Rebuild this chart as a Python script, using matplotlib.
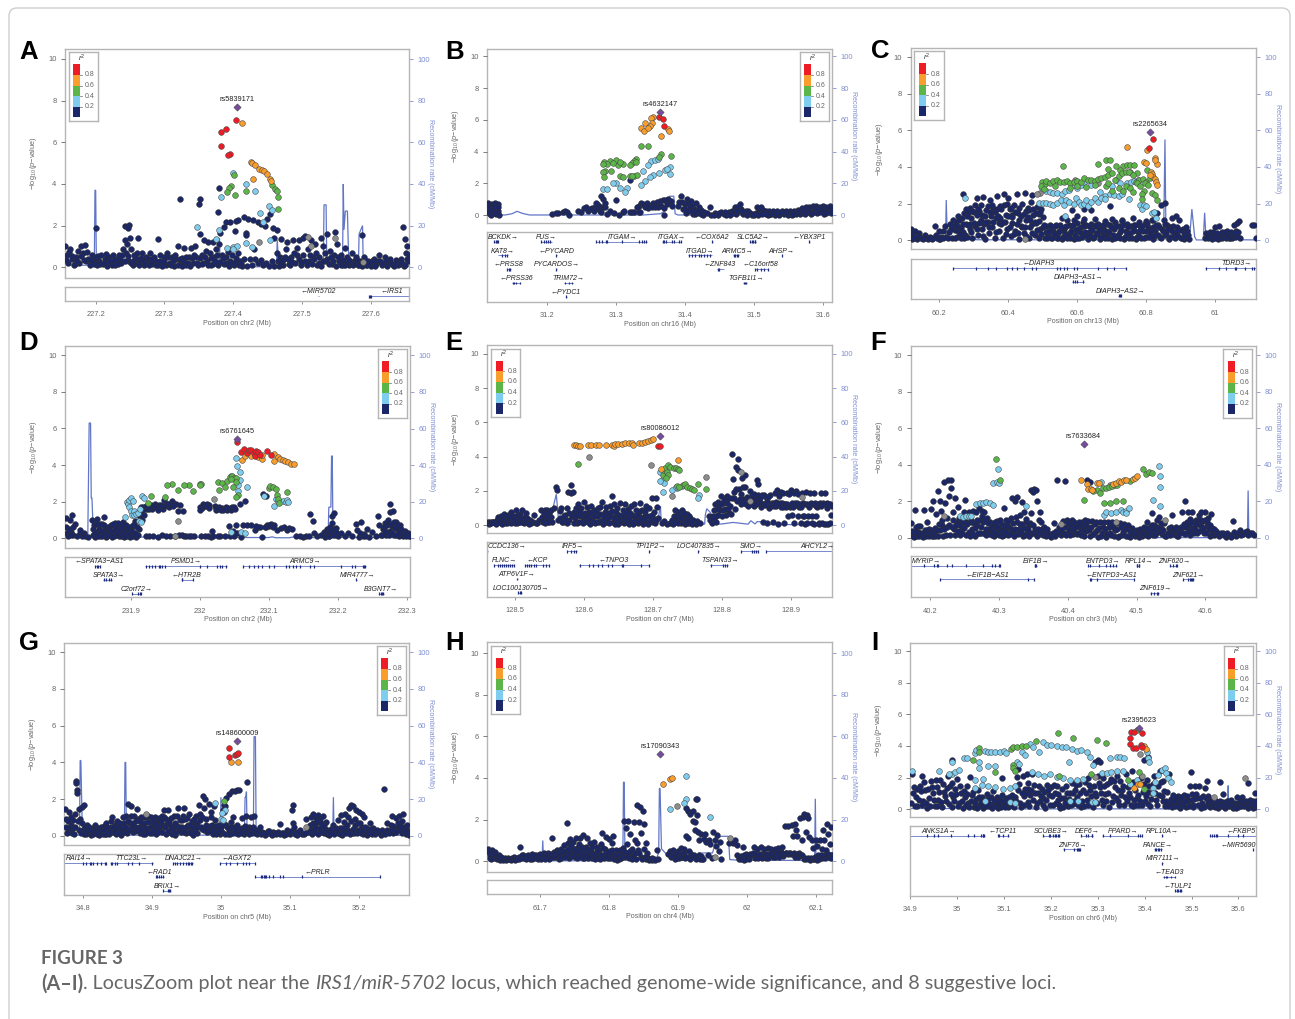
import matplotlib
matplotlib.use("Agg")
import matplotlib.pyplot as plt
from matplotlib.patches import FancyBboxPatch

W, H = 1295, 1019
plt.rcParams['font.family'] = ['Liberation Sans', 'DejaVu Sans']
plt.rcParams['mathtext.fontset'] = 'custom'
plt.rcParams['mathtext.rm'] = 'Liberation Sans'
plt.rcParams['mathtext.it'] = 'Liberation Sans:italic'

NAVY, BLUE, GREEN, ORANGE, RED, PURPLE, GREY = '#1b2768', '#7fcdee', '#5cb548', '#f99d2c', '#ee1c25', '#764a9c', '#8d8d8d'
REC, FRAME, TXT = '#6276c6', '#b5b5b5', '#666666'
RTXT = '#7f8ed2'

# ---------- A
A_navy = [(156,1.),(158,.6),(160,.2),(163,.9),(165,.4),(168,.1),(171,.5),(174,.8),(176,.2),(179,1.),(181,.7),(184,1.05),(186,.3),(189,.4),(192,.1),(195,.6),(198,.3),(200,.5),(202,.1),(205,.3),(208,.6),(210,.15),(213,.4),(216,.05),(219,.5),(222,.2),(225,.6),(228,.1),(231,.4),(234,.6),(237,.2),(240,.9),(242,1.3),(244,.7),(246,1.1),(248,.3),(250,1.4),(252,.9),(254,.1),(256,.6),(258,.2),(260,.7),(262,1.4),(264,.3),(267,.7),(270,.1),(273,.5),(276,.2),(279,.7),(282,.15),(285,.5),(288,.1),(291,1.35),(293,.6),(296,.2),(299,.5),(302,.1),(305,.5),(308,.2),(311,.5),(314,.05),(317,.4),(320,1.),(323,.15),(326,.45),(329,.95),(332,.1),(335,.5),(338,.95),(341,.2),(344,1.),(346,.5),(349,.1),(352,1.6),(354,.6),(356,.2),(358,1.3),(360,.8),(362,.3),(364,1.2),(366,.7),(368,.1),(370,1.2),(372,.5),(375,.9),(378,.1),(380,1.1),(383,.6),(386,.15),(389,.5),(392,.75),(395,.3),(398,.6),(401,.1),(404,.45),(407,.7),(410,.3),(413,.05),(416,.4),(420,.05),(424,.4),(428,.1),(432,.4),(436,.2),(440,.35),(444,.1),(448,.2),(452,.05),(456,.3),(460,.05),(464,.7),(465,.3),(468,.5),(470,1.35),(472,.1),(475,.5),(478,1.2),(481,.15),(484,.5),(487,1.3),(490,.2),(493,.6),(496,1.3),(499,.1),(502,.6),(505,1.5),(508,.9),(510,.3),(513,1.3),(516,.5),(519,1.1),(522,.1),(525,.5),(528,1.4),(531,1.),(534,.3),(537,1.6),(540,.8),(543,.15),(546,.6),(548,1.7),(551,1.1),(554,.3),(557,.6),(560,.1),(563,.95),(566,.5),(569,.1),(572,.7),(575,.3),(578,.5),(581,.1),(584,.3),(587,.05),(590,.5),(593,.1),(596,.3),(600,.05),(604,.4),(608,.15),(612,.6),(616,.1),(620,.5),(624,.05),(628,.4),(632,.1),(636,.35),(640,.1),(644,.4),(648,.05),(651,.7),(653,1.),(654,.3),(322,3.26),(351,3.26),(350,3.06),(380,3.82),(378,2.66),(200,1.89),(243,2.),(249,2.05),(247,1.87),(647,1.95),(587,1.55),(650,1.38),(453,2.56),(449,2.32),(381,1.63),(387,1.95),(390,2.16),(395,2.19),(404,2.22),(407,2.27),(415,2.4),(422,2.3),(429,2.25),(436,2.18),(441,2.08),(446,1.98),(458,1.87),(463,1.79),(402,1.74),(418,1.63),(419,1.55),(400,.95),(430,.9),(460,1.4)]
A_fill = [(157,.35),(161,.75),(166,.55),(170,.15),(173,.3),(178,.55),(183,.35),(188,.75),(193,.35),(197,.15),(204,.55),(207,.15),(212,.2),(215,.65),(220,.3),(224,.1),(227,.35),(233,.15),(236,.4),(239,.6),(243,.3),(247,.55),(251,.2),(255,.35),(259,.45),(263,.1),(266,.45),(269,.3),(272,.15),(275,.45),(278,.1),(281,.4),(284,.25),(287,.3),(290,.1),(294,.3),(297,.05),(300,.3),(303,.7),(306,.15),(310,.1),(313,.3),(316,.6),(319,.1),(322,.4),(325,.05),(328,.3),(331,.5),(334,.2),(337,.05),(340,.45),(343,.6),(347,.2),(351,.45),(355,.15),(359,.5),(363,.1),(367,.45),(371,.15),(374,.3),(377,.6),(381,.25),(385,.45),(390,.2),(394,.05),(397,.2),(403,.25),(409,.1),(412,.2),(466,.05),(469,.2),(473,.35),(476,.9),(480,.4),(483,.1),(486,.25),(489,.7),(492,.95),(495,.4),(498,.25),(501,1.4),(504,.3),(507,.1),(511,.6),(514,.15),(518,.4),(521,.7),(524,.2),(527,.05),(530,.3),(533,.7),(536,.4),(539,.15),(542,.5),(545,.3),(549,.05),(552,.5),(556,.1),(559,.35),(562,.1),(565,.2),(568,.35),(571,.2),(574,.1),(577,.2),(580,.35),(583,.1),(586,.25),(589,.3),(592,.35),(595,.1),(598,.2),(602,.3),(606,.05),(610,.3),(614,.3),(618,.2),(622,.3),(626,.2),(630,.2),(634,.05),(638,.2),(642,.15),(646,.2),(650,.1),(652,.4),(655,.6)]
A_grey = [(437,1.22),(513,1.),(548,1.39),(509,1.47),(588,.27)]
A_blue = [(399,4.51),(419,4.02),(431,3.65),(382,3.38),(452,2.96),(456,2.74),(439,2.62),(444,2.19),(348,1.94),(379,1.81),(375,1.34),(453,1.31),(418,1.18),(391,.91),(399,.98),(405,1.),(428,.98),(399,.9)]
A_green = [(401,4.42),(397,3.89),(394,3.81),(391,3.62),(402,3.46),(418,3.66),(457,3.97),(461,3.78),(464,3.65),(465,3.36),(465,2.78)]
A_orange = [(413,6.91),(426,5.07),(428,5.02),(431,4.91),(438,4.74),(442,4.66),(445,4.62),(449,4.46),(453,4.22),(455,4.13),(429,4.22)]
A_red = [(404,7.07),(390,6.64),(382,6.51),(382,5.82),(396,5.44),(393,5.39)]
A_lead = (406,7.68)
A_rec = [(155,1),(198,1),(199,37),(200,37),(201,2),(378,1),(379,2),(380,14),(381,1.5),(390,.3),(405,.8),(412,.2),(448,.3),(463,2),(464,13),(466,1),(531,1),(532,30),(535,30),(536,3),(559,3),(560,40),(561,18),(563,27),(566,27),(568,2),(582,1),(583,16),(588,20),(589,2),(656,.5)]
A_genes = [("←MIR5702",524,0,523,524,[]),("←IRS1",630,0,597,656,[597,599,601])]

# ---------- B
B_navy = [(115,.75),(117,.3),(118,.1),(119,.5),(121,.7),(122,.2),(124,.4),(125,.75),(127,.1),(128,.5),(129,.7),(130,.3),(131,.05),(116,.5),(123,.55),(126,.3),(208,.1),(213,.15),(216,.15),(223,.2),(226,.3),(229,.2),(232,.05),(246,.25),(250,.2),(254,.45),(257,.5),(260,.25),(262,.4),(265,.45),(268,.3),(270,.55),(273,.7),(275,.45),(276,.6),(277,.3),(279,.2),(281,.55),(282,1.),(284,.5),(285,.75),(272,.75),(278,1.2),(288,.1),(292,.25),(297,.15),(301,.95),(304,.05),(311,.2),(312,.25),(320,.2),(323,.2),(327,.2),(333,.2),(337,.8),(335,.2),(333,.6),(331,.55),(340,.7),(342,.55),(345,.75),(347,.45),(350,.6),(352,.5),(354,.75),(357,.55),(359,.85),(361,.5),(364,.9),(366,.6),(369,.95),(370,.45),(372,.95),(374,.7),(376,1.),(378,.85),(380,.9),(382,.6),(370,.05),(390,.6),(392,.85),(394,1.2),(396,.85),(398,.4),(400,.7),(401,.15),(403,1.),(405,.75),(407,.5),(409,.9),(411,.6),(412,.1),(414,.4),(416,.75),(418,.15),(420,.5),(422,.25),(424,.35),(426,.05),(436,.5),(438,.05),(444,.15),(448,.05),(452,.2),(456,.1),(460,.05),(464,.2),(468,.3),(470,.15),(472,.5),(474,.1),(476,.55),(478,.25),(480,.7),(482,.4),(484,.1),(486,.15),(488,.3),(491,.25),(494,.15),(497,.05),(500,.05),(503,.15),(505,.5),(507,.3),(509,.15),(511,.5),(513,.35),(515,.15),(517,.3),(520,.05),(522,.3),(525,.1),(528,.3),(531,.05),(534,.25),(537,.05),(540,.25),(543,.1),(546,.3),(549,.05),(552,.25),(555,.05),(558,.3),(561,.1),(564,.35),(567,.1),(570,.45),(572,.15),(575,.5),(577,.2),(580,.55),(582,.1),(585,.6),(587,.3),(590,.6),(592,.15),(595,.55),(597,.3),(600,.6),(602,.1),(605,.55),(607,.3),(610,.6),(612,.15),(320,2.22)]
B_fill = [(115,.2),(120,.05),(120,.35),(125,.15),(130,.55),(400,.4),(405,.3),(410,.25),(415,.1),(419,.3),(423,.1),(428,.2),(432,.15),(442,.05),(450,.15),(458,.2),(466,.05),(475,.3),(483,.25),(490,.05),(499,.1),(506,.05),(512,.1),(518,.1),(523,.1),(527,.15),(533,.1),(538,.15),(544,.2),(548,.15),(553,.1),(557,.1),(562,.2),(566,.25),(571,.3),(574,.1),(578,.4),(581,.3),(584,.15),(588,.45),(591,.35),(594,.2),(598,.45),(601,.3),(604,.15),(608,.45),(611,.4),(613,.3)]
B_blue = [(351,3.42),(357,3.48),(346,3.17),(340,2.81),(361,3.52),(378,3.02),(371,2.85),(378,2.6),(362,2.64),(354,2.54),(349,2.39),(342,2.18),(337,1.91),(301,2.05),(296,2.01),(306,1.74),(316,1.74),(314,1.45),(282,1.66),(287,1.66),(374,2.89)]
B_green = [(336,4.36),(346,4.36),(380,3.75),(366,3.86),(362,3.69),(330,3.54),(327,3.4),(323,3.27),(321,3.19),(311,3.23),(303,3.17),(300,3.48),(292,3.4),(283,3.38),(306,3.38),(296,3.27),(287,3.23),(282,3.21),(293,2.81),(285,2.79),(281,2.73),(283,2.39),(306,2.49),(310,2.43),(320,2.45),(327,2.47),(331,2.52),(323,2.5),(330,3.38)]
B_orange = [(354,6.2),(351,6.1),(343,5.83),(352,5.79),(350,5.62),(337,5.49),(341,5.3),(346,5.47),(376,5.41),(377,5.3),(365,4.99)]
B_red = [(363,6.2),(369,6.06),(370,5.6)]
B_lead = (364,6.5)
B_rec = [(114,.2),(140,.2),(150,1),(157,2.5),(165,1.2),(175,.2),(340,.2),(365,1),(372,3),(378,12),(384,12),(386,1),(390,.2),(613,.2)]
B_genes = [("BCKDK→",137,0,124,130,[124,126,128,130]),("KAT8→",137,1,129,144,[135,140,143]),("←PRSS8",144,2,143,148,[143,145,147]),("←PRSS36",156,3,150,162,[151,153,155,161]),
 ("FUS→",200,0,192,207,[192,196,199,202,205]),("←PYCARD",214,1,214,215,[214]),("PYCARDOS→",215,2,214,215,[214]),("TRIM72→",232,3,225,238,[226,233,236]),("←PYDC1",227,4,228,229,[228]),
 ("ITGAM→",309,0,272,345,[272,276,280,286,287,309,333,338,341,344]),("ITGAX→",381,0,367,395,[368,370,373,382,384,392,394]),("←COX6A2",439,0,440,441,[440]),("ITGAD→",422,1,405,439,[406,411,415,420,424,428,432,437]),
 ("←ZNF843",451,2,447,456,[448,449]),("SLC5A2→",499,0,494,503,[495,497,499,501,502]),("ARMC5→",475,1,470,478,[471,473,475,477]),("←C16orf58",510,2,501,521,[502,504,510,515,520]),("TGFB1I1→",488,3,484,490,[485,487,489]),
 ("AHSP→",540,1,540,541,[540]),("←YBX3P1",580,0,580,581,[580])]

# ---------- C
C_navy = [(118,.6),(122,.2),(125,.4),(130,.5),(135,.05),(142,.4),(150,.1),(158,.3),(166,.05),(174,.2),(182,.1),(186,.8),(190,.3),(198,.05),(206,.2),(212,.5),(216,.8),(220,.2),(228,.45),(232,.9),(236,.15),(240,1.1),(244,.55),(248,1.),(250,.2),(254,1.35),(258,.7),(262,.1),(265,1.2),(268,2.5),(270,.45),(272,1.5),(276,.9),(280,.2),(284,1.5),(288,.6),(292,1.2),(296,.1),(300,1.55),(304,.8),(308,2.3),(312,.3),(316,1.6),(320,1.1),(324,.6),(328,2.35),(332,.05),(336,1.65),(340,1.),(344,.4),(348,2.2),(352,.7),(356,1.75),(360,.1),(364,1.2),(368,2.4),(372,.5),(376,1.85),(380,.9),(384,.15),(388,2.5),(392,1.4),(396,.6),(400,2.3),(404,1.7),(408,.25),(412,.95),(416,1.9),(420,.5),(424,2.5),(428,1.5),(432,.05),(436,.8),(440,2.),(444,.4),(448,2.6),(452,1.1),(456,1.75),(460,.1),(464,.7),(468,2.45),(472,1.4),(476,.3),(480,.95),(484,1.8),(488,.15),(492,.6),(496,1.7),(200,.5),(255,.5),(275,.3),(290,.9),(310,.6),(330,.9),(350,1.3),(370,1.3),(390,1.),(410,1.4),(430,1.1),(450,1.6),(470,.9),(490,1.45),(465,2.1),(500,1.25),(500,.7),(505,.1),(510,.8),(515,.35),(520,.85),(525,.1),(530,.5),(535,.8),(540,.1),(545,.4),(550,.85),(555,.05),(560,.5),(565,.75),(570,.15),(575,.85),(580,.4),(585,.8),(590,.05),(595,.55),(600,.95),(605,.15),(610,.75),(615,1.),(620,.4),(625,.85),(630,.05),(635,.45),(640,.9),(645,.1),(650,.8),(655,.4),(660,.9),(665,.05),(670,.5),(675,.75),(680,.15),(685,.9),(690,.4),(695,.85),(700,.05),(705,.6),(710,1.),(715,.2),(720,.8),(725,.45),(730,1.1),(735,.05),(740,.5),(745,.9),(750,.15),(755,.8),(760,.5),(765,.85),(770,.05),(775,.45),(780,.85),(785,.1),(790,.5),(795,.9),(800,.2),(805,.7),(810,.4),(815,1.1),(820,.05),(825,.5),(830,1.5),(835,.85),(840,.2),(843,1.9),(845,.6),(850,1.1),(855,2.05),(855,.3),(860,.85),(865,.05),(870,.7),(875,1.2),(880,.3),(885,1.35),(890,.5),(895,1.1),(900,.15),(905,.6),(910,.05),(915,.7),(920,.3),(925,.05),(970,.1),(974,.4),(980,.15),(985,.45),(990,.05),(995,.2),(1000,.75),(1003,.35),(1008,.05),(1012,.8),(1016,.3),(1020,.1),(1025,.4),(1030,.15),(1035,.5),(1040,.1),(1045,.45),(1050,.25),(1055,.85),(1060,.5),(1064,.95),(1068,1.05),(1072,.1),(1107,.85),(1112,.85),(1117,.1),(555,1.2),(570,1.1),(590,1.1),(600,1.3),(620,1.15),(650,1.15),(680,1.05),(700,1.15),(730,1.05),(760,1.2),(780,1.),(800,1.05),(820,1.1),(585,1.65),(620,1.7),(640,1.65),(695,1.85)]
C_fill = [(120,.05),(128,.15),(138,.25),(146,.15),(154,.05),(162,.15),(170,.1),(178,.05),(194,.15),(202,.05),(210,.1),(225,.1),(235,.6),(242,.8),(246,.15),(252,.8),(256,1.1),(260,.35),(264,.65),(268,.9),(272,.15),(276,1.7),(280,1.3),(284,.85),(288,1.75),(292,.45),(296,1.6),(300,.95),(304,1.9),(308,1.4),(312,1.7),(316,.95),(320,1.9),(324,1.4),(328,.25),(332,1.35),(336,1.),(340,1.85),(344,.75),(348,1.55),(352,1.9),(356,1.),(360,1.55),(364,.45),(368,1.7),(372,.95),(376,1.2),(380,1.7),(384,1.),(388,1.9),(392,.35),(396,2.),(400,1.3),(404,.7),(408,1.75),(412,1.25),(416,.35),(420,1.55),(424,.9),(428,.4),(432,1.75),(436,1.3),(440,.7),(444,1.45),(448,.75),(452,.25),(456,1.25),(460,1.65),(464,1.1),(468,.4),(472,1.7),(476,1.),(480,1.5),(484,.55),(488,1.05),(492,1.55),(496,.35),(503,.85),(508,.45),(513,.1),(518,.5),(523,.8),(528,.15),(533,.35),(538,.85),(543,.15),(548,.5),(553,.75),(558,.2),(563,.35),(568,.8),(573,.3),(578,.15),(583,.5),(588,.85),(593,.3),(598,.15),(603,.6),(608,.45),(613,.2),(618,.8),(623,.45),(628,.25),(633,.8),(638,.3),(643,.55),(648,.2),(653,.85),(658,.35),(663,.6),(668,.2),(673,.85),(678,.35),(683,.5),(688,.15),(693,.45),(698,.75),(703,.3),(708,.15),(713,.8),(718,.3),(723,.1),(728,.55),(733,.85),(738,.2),(743,.35),(748,.75),(753,.4),(758,.15),(763,.55),(768,.85),(773,.2),(778,.25),(783,.55),(788,.8),(793,.15),(798,.5),(803,.95),(808,.2),(813,.55),(818,.75),(823,.25),(828,.85),(833,.3),(838,.75),(843,.1),(848,.5),(853,.9),(858,.4),(863,.6),(868,.2),(873,.5),(878,.8),(883,.1),(888,.75),(893,.25),(898,.55),(903,.1),(908,.4),(913,.25),(918,.5),(977,.2),(983,.35),(988,.25),(993,.45),(998,.1),(1006,.4),(1014,.15),(1018,.45),(1023,.2),(1028,.45),(1033,.25),(1038,.3),(1043,.15),(1048,.1),(1053,.4),(1058,.2),(1062,.25),(1066,.45)]
C_grey = [(447,.05),(491,2.6),(484,2.55),(592,3.3),(660,3.1)]
C_blue = [(274,2.3),(497,2.85),(510,2.7),(520,2.65),(530,2.6),(540,2.6),(555,2.55),(565,2.7),(575,2.75),(590,3.),(600,2.85),(610,3.),(620,3.2),(640,3.),(665,2.65),(680,2.4),(695,2.5),(705,2.45),(720,2.4),(730,2.55),(700,2.95),(712,3.3),(725,3.1),(745,3.1),(755,3.2),(765,3.25),(775,3.3),(750,2.25),(490,2.05),(500,2.05),(510,2.05),(522,2.),(530,1.9),(540,2.05),(552,2.2),(560,1.95),(568,2.2),(575,2.1),(590,2.),(597,2.3),(605,2.1),(610,1.95),(618,2.),(625,2.2),(632,1.85),(640,2.1),(650,2.3),(660,2.1),(668,2.3),(680,2.25),(565,1.3),(783,1.9),(788,1.7),(793,1.9),(800,1.85),(815,1.5),(822,1.55),(828,1.2)]
C_green = [(557,4.05),(661,4.16),(682,4.36),(695,4.38),(711,4.05),(690,3.89),(733,4.05),(743,4.09),(754,4.09),(763,4.09),(724,3.84),(753,3.75),(772,3.69),(801,3.84),(497,3.2),(505,3.05),(510,3.25),(520,3.1),(530,3.25),(540,3.3),(550,3.2),(560,3.2),(570,3.25),(580,3.1),(590,3.2),(600,3.25),(610,3.2),(620,3.4),(630,3.3),(640,3.3),(650,3.25),(660,3.35),(670,3.4),(680,3.45),(690,3.55),(700,3.65),(710,3.3),(720,3.5),(730,3.65),(740,3.75),(750,3.7),(760,3.55),(770,3.2),(780,3.3),(790,3.35),(800,3.2),(810,3.4),(495,2.95),(503,2.8),(535,2.95),(580,2.85),(600,2.95),(625,2.9),(650,3.),(682,2.95),(690,3.1),(700,2.7),(720,2.85),(732,2.7),(742,2.95),(752,2.85),(762,2.65),(772,3.1),(782,2.95),(792,2.7),(795,3.1),(805,3.),(788,2.5),(788,2.25),(815,2.6),(825,2.45),(830,2.2)]
C_orange = [(745,5.09),(801,4.93),(825,4.51),(830,4.15),(794,4.27),(799,4.2),(813,3.75),(816,3.62),(820,3.47),(824,3.33),(828,3.16),(832,3.02),(826,4.38),(811,3.56)]
C_red = [(818,5.55),(808,5.04)]
C_lead = (812,5.93)
C_rec = [(117,16),(118,1),(218,.3),(220,22),(223,2),(240,.5),(304,.3),(305,2),(306,.3),(850,.2),(854,55),(857,.3),(925,.3),(932,17),(940,2),(945,.2),(965,.2),(969,15),(973,.5),(1117,.2)]
C_genes = [("←DIAPH3",487,0,241,740,[241,306,340,365,395,410,425,445,470,480,540,550,560,570,590,600,660,685,705,740]),("DIAPH3−AS1→",603,1,585,619,[586,592,598,616]),("DIAPH3−AS2→",725,2,719,728,[720,723,726]),("TDRD3→",1061,0,971,1117,[972,1012,1030,1056,1060,1085,1105,1112])]

# ---------- D
D_navy = [(806,1.1),(808,.3),(810,.15),(812,1.0),(814,.35),(815,1.3),(817,.2),(819,.8),(822,.1),(826,.3),(827,.45),(830,.1),(832,.3),(834,.15),(838,.05),(844,1.),(846,.2),(847,.7),(849,.05),(851,.35),(852,1.05),(854,.5),(856,.1),(858,.8),(860,.25),(861,1.15),(863,.55),(865,.05),(867,.6),(869,.3),(871,.75),(873,.05),(875,.4),(877,.85),(879,.2),(881,.55),(883,.1),(885,.75),(887,.35),(889,.9),(891,.05),(893,.5),(895,.15),(897,.35),(899,.05),(901,.6),(903,.1),(905,.7),(907,.95),(908,.05),(910,.2),(912,.5),(913,1.15),(915,1.7),(917,1.35),(919,1.65),(921,1.6),(923,.15),(925,1.75),(927,.1),(929,1.8),(931,1.6),(933,.1),(935,1.85),(937,1.75),(939,.05),(941,1.8),(943,1.65),(945,.2),(947,1.6),(949,2.1),(951,.1),(953,1.9),(955,1.7),(957,.15),(959,1.85),(960,2.05),(962,1.95),(964,.1),(966,1.85),(968,1.5),(970,.2),(972,1.8),(974,.2),(976,1.5),(978,.15),(980,.1),(984,.1),(988,.15),(992,.1),(1000,1.7),(1002,.15),(1004,1.65),(1006,1.75),(1008,.1),(1010,1.85),(1012,.15),(1014,1.8),(1016,.05),(1018,.4),(1020,.15),(1022,1.75),(1024,1.65),(1026,.1),(1028,1.7),(1030,.15),(1032,1.65),(1034,1.55),(1036,.1),(1038,1.7),(1040,1.55),(1042,.65),(1044,.15),(1046,1.65),(1048,.4),(1050,.1),(1052,.7),(1054,.3),(1058,1.9),(1060,.05),(1063,.7),(1065,2.05),(1068,.7),(1075,.7),(1080,.45),(1085,.6),(1090,.05),(1092,2.4),(1094,.6),(1096,2.3),(1098,.75),(1100,.65),(1104,.8),(1108,.7),(1112,.45),(1118,.55),(1122,.6),(1126,.45),(1130,.55),(1134,.5),(1140,.1),(1145,.15),(1150,.05),(1154,.1),(1160,1.35),(1158,.15),(1164,.95),(1166,.3),(1170,.1),(1175,.2),(1180,.35),(1182,.05),(1185,.5),(1187,.15),(1189,.6),(1191,1.2),(1192,.85),(1194,1.4),(1196,.2),(1198,.55),(1200,.1),(1205,.3),(1210,.1),(1215,.3),(1220,.1),(1227,.8),(1228,.45),(1230,.05),(1234,.9),(1238,.25),(1242,.5),(1245,.05),(1250,.35),(1255,.1),(1258,1.2),(1260,.75),(1262,.2),(1265,.5),(1268,.85),(1270,.2),(1272,1.),(1275,1.9),(1275,1.45),(1276,.4),(1278,.65),(1280,1.5),(1282,.2),(1284,.9),(1286,.5),(1288,.15),(1290,.75),(1292,.3),(1295,.1),(1298,.4),(1300,.2),(1303,.1)]
D_fill = [(807,.6),(811,.5),(813,.2),(816,.6),(845,.5),(848,.3),(850,.8),(853,.15),(855,.8),(857,.4),(859,.15),(862,.7),(864,.3),(866,.1),(868,.45),(870,.2),(872,.4),(874,.8),(876,.15),(878,.5),(880,.3),(882,.85),(884,.4),(886,.15),(888,.6),(890,.3),(892,.1),(894,.75),(896,.25),(898,.6),(900,.15),(902,.4),(904,.75),(906,.3),(909,.6),(911,1.35),(914,1.5),(916,1.),(918,1.7),(920,1.3),(922,1.75),(924,1.6),(926,1.6),(928,1.7),(932,1.75),(936,1.7),(940,1.55),(944,1.8),(948,1.75),(952,1.85),(956,1.85),(961,1.75),(1001,1.55),(1005,1.85),(1009,1.75),(1013,1.65),(1023,1.55),(1027,1.6),(1031,1.55),(1037,1.6),(1041,1.65),(1045,1.55),(1047,1.7),(1049,1.7),(1051,1.6),(1082,.65),(1088,.6),(1096,.6),(1101,.75),(1106,.6),(1184,.3),(1186,.35),(1188,.1),(1190,.35),(1193,.2),(1195,.5),(1197,.35),(1232,.3),(1236,.1),(1240,.15),(1264,.2),(1267,.6),(1269,.4),(1271,.7),(1274,.2),(1277,.8),(1279,.3),(1281,.9),(1283,.55),(1285,.2),(1287,.7),(1289,.4),(1291,.5),(1293,.2),(1296,.25),(1299,.15),(1302,.3),(1304,.1)]
D_grey = [(969,.92),(1021,2.17),(965,.1)]
D_blue = [(892,1.15),(895,2.),(896,1.85),(898,2.1),(897,1.7),(900,2.2),(900,1.5),(902,1.3),(903,2.05),(905,1.5),(905,1.25),(908,1.35),(910,1.4),(912,.95),(916,2.3),(919,2.2),(913,1.6),(915,.9),(1045,.35),(1060,.35),(1066,.3),(1052,4.4),(1054,3.95),(1058,3.6),(1045,3.4),(1058,3.2),(1056,2.9),(1068,2.8),(1055,2.6),(1093,2.3),(1110,2.15),(1113,2.05),(1108,1.75),(1120,2.05),(1125,2.0),(1127,2.1),(1128,2.0)]
D_green = [(1000,2.95),(985,2.9),(960,2.95),(950,2.25),(930,2.3),(925,1.95),(952,2.9),(968,2.65),(977,2.9),(990,2.6),(1002,2.95),(1000,2.9),(1027,3.05),(1033,3.0),(1028,2.65),(1036,2.8),(1040,3.15),(1044,3.35),(1047,3.4),(1050,3.3),(1053,3.3),(1046,3.25),(1052,3.05),(1048,2.8),(1055,2.35),(1053,2.25),(1100,2.75),(1102,2.85),(1106,2.8),(1110,2.7),(1112,2.35),(1113,2.15),(1115,1.95),(1127,2.55)]
D_orange = [(1061,4.3),(1065,4.5),(1075,4.5),(1085,4.45),(1090,4.35),(1090,4.55),(1108,4.6),(1113,4.45),(1108,4.25),(1116,4.35),(1120,4.3),(1124,4.25),(1128,4.15),(1132,4.05),(1136,4.05)]
D_red = [(1054,5.25),(1060,4.7),(1064,4.9),(1069,4.65),(1072,4.85),(1075,4.8),(1078,4.65),(1080,4.5),(1082,4.75),(1085,4.7),(1087,4.55),(1097,4.75),(1104,4.55)]
D_lead = (1054,5.45)
D_rec = [(805,0),(806,6),(810,5.5),(812,2),(826,2),(838,1),(840,63),(842,63),(843,22),(844,22),(846,3),(860,1),(950,.5),(1020,.5),(1100,.4),(1105,.8),(1110,.3),(1130,.3),(1135,.7),(1170,.3),(1186,1),(1187,17),(1190,17),(1191,45),(1192,45),(1193,3),(1197,.5),(1305,.3)]
D_genes = [("←SPATA3−AS1",854,0,849,855,[849,851,853,855]),("SPATA3→",868,1,860,873,[861,864,868,872]),("C2orf72→",909,2,902,915,[902,911,913,915]),("PSMD1→",980,0,921,1039,[922,926,931,935,941,943,946,950,1000,1010,1025,1029,1033,1038]),("←HTR2B",981,1,974,991,[974,975,990]),("ARMC9→",1152,0,1063,1241,[1063,1072,1078,1085,1090,1100,1108,1125,1130,1135,1140,1145,1160,1165,1205,1220,1225,1236,1238,1240]),("MIR4777→",1228,1,1227,1228,[1227]),("B3GNT7→",1263,2,1260,1267,[1260,1262,1264,1266])]

# ---------- E
E_navy = [(461,.15),(464,.2),(467,.15),(470,.2),(472,.1),(474,.3),(476,.45),(478,.15),(480,.55),(482,.3),(484,.65),(486,.1),(488,.45),(490,.6),(492,.2),(494,.75),(496,.35),(498,.55),(500,.1),(502,.9),(504,.4),(506,.2),(508,.65),(510,.85),(512,.15),(514,.45),(516,.7),(518,.2),(520,.15),(522,.3),(524,.1),(526,.15),(528,.6),(530,.1),(532,.1),(535,.3),(538,.85),(539,.45),(541,.15),(543,.85),(545,.4),(547,.9),(549,.7),(550,.2),(553,.45),(556,1.),(560,2.25),(561,2.05),(563,.3),(565,.8),(567,1.),(570,.15),(573,.6),(575,1.),(577,1.95),(578,.3),(581,2.35),(582,1.9),(584,1.95),(586,.75),(588,1.0),(590,.1),(592,1.25),(594,.55),(596,1.),(598,.25),(600,1.35),(602,.7),(604,1.05),(606,.15),(608,.75),(610,1.1),(612,.4),(614,.85),(616,.1),(618,.55),(620,1.),(622,.15),(624,1.05),(626,1.35),(628,.3),(630,.75),(632,1.05),(634,.2),(636,.7),(638,1.1),(640,1.7),(642,.2),(644,1.25),(646,.5),(648,1.),(650,.05),(652,1.3),(654,.55),(656,.85),(658,.1),(660,1.2),(662,.5),(664,.95),(666,.05),(668,1.1),(670,.6),(672,1.2),(674,.3),(676,.9),(678,.1),(680,.55),(682,1.3),(684,.85),(686,.1),(688,.6),(690,1.1),(692,.2),(694,1.),(696,.5),(698,1.6),(700,.15),(702,.75),(704,1.55),(706,1.05),(708,.4),(713,.1),(716,.25),(720,.05),(725,.1),(730,.5),(732,.9),(734,.15),(736,.75),(738,.3),(740,.1),(742,.9),(744,.5),(746,.05),(748,.3),(750,.65),(752,.1),(754,.4),(756,.05),(758,.3),(762,.05),(764,.25),(768,.1),(782,.5),(785,.15),(786,.1),(788,.85),(790,1.2),(791,.55),(793,.95),(795,1.35),(796,1.15),(798,1.7),(800,.55),(802,1.3),(804,1.6),(806,.6),(808,1.7),(810,.7),(812,1.1),(814,1.55),(815,4.15),(816,2.7),(818,1.95),(820,3.4),(821,2.1),(823,3.85),(824,3.2),(825,2.1),(827,1.8),(829,2.75),(831,1.5),(833,2.9),(835,1.2),(837,1.65),(839,1.3),(841,2.),(843,1.75),(845,1.3),(847,1.1),(849,1.6),(851,2.65),(852,2.4),(854,1.3),(856,1.05),(858,1.75),(860,.2),(862,1.25),(864,1.65),(866,.1),(868,1.),(870,1.75),(872,1.3),(874,.15),(876,1.1),(878,1.35),(880,2.05),(882,.05),(884,1.3),(886,1.95),(888,1.05),(890,.1),(892,1.25),(894,1.85),(896,.55),(898,1.05),(900,2.05),(902,.6),(904,.1),(906,1.3),(908,2.),(910,.55),(912,1.05),(914,.1),(916,1.9),(918,1.3),(920,.05),(922,1.95),(924,.1),(926,1.05),(928,1.85),(930,.1),(932,1.25),(934,1.9),(936,.55),(938,1.05),(940,.1),(942,1.3),(944,1.9),(946,1.3),(948,.05),(950,1.25),(952,1.0),(954,.05),(956,1.2),(958,.6),(959,1.1)]
E_fill = [(462,.05),(465,.1),(468,.2),(473,.05),(477,.2),(481,.05),(483,.4),(485,.3),(487,.2),(489,.1),(491,.4),(493,.55),(495,.1),(497,.15),(499,.35),(501,.25),(503,.1),(505,.6),(507,.4),(509,.15),(511,.35),(513,.1),(515,.25),(517,.4),(519,.1),(521,.05),(540,.25),(542,.7),(544,.1),(546,.55),(548,.2),(552,.85),(554,.15),(566,.4),(568,.15),(571,.5),(574,.3),(576,.1),(579,.7),(583,.5),(585,.1),(587,.4),(589,.6),(591,.85),(593,.2),(595,.75),(597,.5),(599,.1),(601,.4),(603,.25),(605,.55),(607,.3),(609,.05),(611,.7),(613,.15),(615,.5),(617,.8),(619,.2),(621,.5),(623,.65),(625,.25),(627,.05),(629,.5),(631,.2),(633,.7),(635,.4),(637,.1),(639,.55),(641,.8),(643,.4),(645,.05),(647,.75),(649,.3),(651,.6),(653,.15),(655,.3),(657,.6),(659,.3),(661,.75),(663,.2),(665,.4),(667,.7),(669,.2),(671,.05),(673,.5),(675,.3),(677,.6),(679,.25),(681,.8),(683,.4),(685,.05),(687,.35),(689,.8),(691,.55),(693,.05),(695,.2),(697,.3),(699,.6),(701,.35),(703,.1),(705,.3),(727,.3),(729,.05),(731,.2),(733,.55),(735,.4),(737,.1),(739,.6),(741,.4),(743,.2),(745,.7),(747,.25),(749,.1),(751,.35),(753,.55),(755,.2),(783,.3),(787,.55),(789,.4),(792,.2),(794,.6),(797,.9),(799,1.2),(801,.9),(803,1.45),(805,.95),(807,1.3),(809,.95),(811,1.6),(813,.65),(817,1.6),(819,.95),(822,1.4),(826,1.5),(828,1.2),(830,2.25),(832,1.3),(834,2.25),(836,1.6),(838,1.1),(840,1.45),(842,1.25),(844,1.55),(846,1.8),(848,1.35),(850,1.25),(853,1.75),(855,1.6),(857,1.3),(859,1.2),(861,1.75),(863,1.15),(865,1.4),(867,1.65),(869,1.15),(871,1.1),(873,1.25),(875,1.3),(877,1.85),(879,1.1),(881,1.2),(883,1.7),(885,1.05),(887,1.3),(889,1.9),(891,1.2),(893,1.05),(895,1.25),(897,1.8),(899,1.1),(901,1.3),(903,1.05),(905,1.85),(907,1.15),(909,1.3),(911,1.8),(913,1.25),(915,1.05),(917,.5),(919,.55),(921,1.25),(923,1.2),(925,.55),(927,1.25),(929,1.3),(931,.55),(933,.05),(935,1.3),(937,1.1),(939,1.25),(941,.05),(943,1.1),(945,.1),(947,1.2),(949,1.85),(951,.05),(953,1.3),(955,1.2),(957,.1)]
E_grey = [(608,4.),(697,3.5),(777,2.8),(727,1.7),(828,3.1),(916,1.65),(840,1.4)]
E_blue = [(711,3.1),(713,2.65),(716,2.45),(711,2.55),(715,1.95),(735,2.15),(728,2.05),(733,2.25),(742,2.3),(767,1.75),(766,1.6)]
E_green = [(591,3.55),(715,2.95),(716,3.2),(718,3.35),(720,3.1),(722,3.5),(725,3.4),(730,3.35),(734,3.35),(736,3.25),(738,3.2),(722,2.9),(719,2.75),(743,2.35),(747,2.4),(750,2.25),(754,2.15),(757,2.1),(760,2.05),(765,2.4),(777,2.1),(735,2.3),(738,2.2)]
E_orange = [(585,4.65),(589,4.65),(591,4.62),(595,4.6),(606,4.65),(611,4.65),(617,4.65),(622,4.7),(632,4.7),(641,4.7),(643,4.6),(645,4.72),(650,4.75),(655,4.75),(660,4.78),(665,4.78),(670,4.8),(671,4.65),(680,4.78),(684,4.8),(688,4.85),(693,4.9),(697,4.95),(700,5.05),(712,3.3),(737,3.8)]
E_red = [(708,4.6),(711,4.6)]
E_lead = (711,5.2)
E_rec = [(460,.2),(530,.2),(545,.3),(552,4),(557,13),(560,18),(563,4),(570,.3),(700,.2),(706,.5),(711,11),(712,1),(775,.5),(776,6),(778,9.5),(784,7),(790,.5),(800,.6),(816,1.5),(838,.5),(842,2.5),(848,.6),(851,2),(858,1.8),(865,.3),(960,.1)]
E_genes = [("CCDC136→",489,0,460,461,[460]),("FLNC→",485,1,469,499,[469,475,478,481,484,487,490,493,496,498]),("←KCP",532,1,515,550,[515,518,521,524,527,530,541,545,549]),("ATP6V1F→",503,2,503,504,[503]),("LOC100130705→",509,3,504,511,[505,507,509]),
 ("IRF5→",584,0,576,590,[576,581,586,588]),("←TNPO3",643,1,593,695,[594,608,613,620,626,635,640,655,657,683,695]),("TPI1P2→",697,0,695,696,[695]),("LOC407835→",767,0,766,767,[766]),("TSPAN33→",797,1,783,809,[784,801,804,807]),("SMO→",842,0,828,853,[828,844,846,850,852]),("AHCYL2→",938,0,864,960,[864])]

# ---------- F
F_navy = [(173,.8),(175,.3),(176,.1),(178,1.55),(179,.6),(181,.1),(183,.35),(186,.65),(188,.1),(191,1.55),(193,.45),(195,.85),(197,.15),(199,.5),(201,1.6),(203,.1),(205,2.),(207,.55),(209,1.3),(211,2.55),(213,.75),(214,2.),(216,1.5),(218,1.),(220,3.05),(222,1.9),(224,.6),(226,3.15),(228,2.3),(230,3.15),(231,2.75),(233,1.4),(235,.5),(237,2.2),(239,.9),(241,1.7),(243,.15),(245,1.),(247,.55),(249,1.4),(251,2.1),(253,.85),(255,.2),(257,1.45),(259,.9),(261,.5),(263,1.5),(265,.1),(267,1.4),(269,.7),(271,1.65),(273,.3),(275,1.5),(277,.85),(279,1.45),(281,.15),(283,1.1),(285,.5),(287,.9),(289,.3),(291,.75),(293,.1),(295,.65),(297,.95),(299,.35),(301,1.),(303,.6),(305,.1),(307,1.65),(309,.5),(311,1.),(313,.15),(315,.6),(317,1.1),(319,2.2),(321,.35),(323,2.05),(325,1.15),(327,2.25),(329,.5),(331,1.25),(333,1.95),(335,.1),(337,1.4),(339,.9),(341,.3),(343,.6),(346,2.65),(347,1.35),(349,2.5),(351,2.7),(352,.5),(354,2.65),(356,2.05),(358,1.),(360,1.45),(362,.5),(364,.15),(366,.6),(368,.1),(372,.3),(376,.05),(380,.8),(383,.4),(385,3.2),(388,.6),(390,.15),(393,.95),(396,3.1),(397,.6),(399,1.),(401,.2),(403,.55),(406,1.),(408,.2),(410,.6),(414,.75),(418,.65),(421,.85),(423,.1),(425,1.),(428,3.15),(432,3.05),(427,.4),(430,.95),(433,.1),(436,.95),(439,.35),(441,.9),(444,.05),(447,.9),(450,.3),(452,.9),(455,.05),(458,.85),(461,.3),(464,.85),(467,.1),(470,.8),(473,.05),(476,.8),(479,.15),(482,.75),(485,.1),(488,.7),(491,.05),(494,.55),(497,.1),(500,.45),(503,.05),(505,.5),(508,.1),(511,.6),(513,.15),(515,.9),(517,.3),(520,.6),(522,1.35),(524,.15),(526,.7),(528,.3),(530,1.),(533,1.15),(535,.55),(537,.2),(540,.8),(543,.1),(547,.55),(549,.25),(552,1.25),(555,.2),(557,.6),(559,.1),(563,.4),(566,1.4),(568,.6),(570,2.05),(571,.2),(574,1.4),(576,.7),(578,.15),(580,1.4),(582,.55),(584,.9),(586,1.),(588,.3),(590,1.25),(592,.7),(594,1.45),(596,.95),(598,.25),(600,1.4),(602,.65),(604,1.1),(606,.1),(608,1.3),(610,.55),(612,.15),(615,.4),(620,.1),(625,.25),(630,.05),(635,.15),(640,.95),(641,.2),(645,.1),(650,.45),(655,.2),(660,.4),(665,.3),(670,.15)]
F_fill = [(174,.4),(177,.05),(180,.35),(182,.65),(184,.1),(187,.3),(190,.05),(192,.3),(194,.1),(196,.45),(198,.1),(200,.3),(202,.45),(204,.1),(206,.25),(208,.1),(210,.45),(212,.1),(215,.45),(217,.7),(219,.1),(221,.5),(223,.15),(225,1.1),(227,.7),(229,.15),(232,.6),(234,1.),(236,.15),(238,.7),(240,.4),(242,1.1),(244,.7),(246,.3),(248,.9),(250,.55),(252,.15),(254,.75),(256,.35),(258,.1),(260,1.),(262,.2),(264,.8),(266,.55),(268,1.),(270,.25),(272,1.),(274,.6),(276,1.2),(278,.3),(280,1.),(282,.5),(284,.8),(286,.2),(288,.55),(290,.15),(292,.4),(294,.85),(296,.25),(298,.6),(300,.15),(302,.85),(304,.35),(306,.7),(308,.15),(310,.35),(312,.7),(314,.95),(316,.2),(318,.5),(320,.8),(322,.1),(324,.5),(326,.85),(328,.2),(330,.75),(332,.35),(334,.75),(336,.55),(338,.15),(340,1.05),(342,.45),(344,.1),(345,.8),(348,.25),(350,.7),(353,.3),(355,.1),(357,.5),(359,.2),(361,.85),(363,.3),(365,.45),(367,.15),(370,.5),(374,.1),(378,.25),(381,.1),(386,.25),(389,.4),(392,.55),(395,.3),(398,.15),(400,.8),(402,.45),(404,.15),(405,.7),(407,.5),(409,.85),(411,.25),(412,.6),(413,.2),(415,.3),(416,.85),(419,.15),(420,.5),(422,.55),(424,.4),(426,.7),(429,.55),(431,.45),(434,.6),(437,.2),(440,.75),(443,.45),(446,.55),(449,.1),(451,.6),(454,.5),(457,.2),(460,.6),(463,.15),(466,.6),(469,.45),(472,.5),(475,.1),(478,.6),(481,.35),(484,.5),(487,.1),(490,.4),(493,.25),(496,.4),(498,.25),(502,.3),(506,.3),(510,.25),(512,.4),(514,.55),(516,.1),(518,.45),(521,.2),(523,.7),(525,.45),(527,.15),(529,.6),(531,.55),(534,.35),(536,.8),(538,.45),(541,.1),(545,.3),(548,.15),(550,.6),(553,.4),(556,.45),(558,.3),(560,.1),(562,.3),(564,.6),(567,.3),(569,.75),(572,.6),(573,.9),(575,.4),(577,1.05),(579,.45),(581,.85),(583,.25),(585,.5),(587,.75),(589,1.),(591,.4),(593,1.),(595,.6),(597,.45),(599,1.),(601,.3),(603,.85),(605,.5),(607,.7),(609,.25),(611,.35),(613,.5),(617,.25),(622,.3),(627,.15),(632,.25),(637,.05),(642,.35),(647,.3),(652,.15),(657,.35),(662,.15),(667,.25)]
F_grey = [(220,1.2),(390,.75),(461,2.9),(542,1.),(470,.9)]
F_blue = [(292,3.),(297,3.05),(299,3.8),(300,3.),(267,1.85),(272,1.9),(277,1.9),(282,1.95),(287,1.9),(291,1.8),(244,1.2),(248,1.15),(252,1.2),(256,1.2),(260,1.2),(339,1.75),(448,3.05),(452,1.25),(456,1.4),(463,1.35),(470,1.45),(477,1.55),(480,1.4),(484,1.5),(489,1.65),(484,1.35),(524,2.1),(532,3.95),(534,3.4),(534,2.8),(534,1.75)]
F_green = [(296,4.3),(301,3.2),(424,2.1),(443,2.6),(447,2.45),(451,2.75),(455,2.75),(460,2.8),(464,2.85),(468,2.9),(472,2.9),(490,3.1),(509,3.75),(514,3.5),(518,3.6),(522,3.55),(452,1.9),(462,1.9),(470,2.05),(481,2.0),(437,2.55)]
F_orange = [(420,3.15),(428,2.95),(430,2.7),(434,2.7),(436,2.65),(443,3.0),(445,3.),(466,2.95),(470,3.0),(474,3.1),(478,3.05),(482,3.15),(485,3.15),(495,3.25),(497,3.3),(500,3.4)]
F_red = []
F_lead = (423,5.15)
F_rec = [(172,.2),(250,1),(350,.8),(420,.8),(425,.8),(426,6),(427,.4),(460,.4),(461,5),(462,.4),(510,.4),(515,.2),(650,.2),(661,1),(662,26),(663,2),(665,.5),(673,.2)]
F_genes = [("MYRIP→",195,0,172,302,[192,206,210,212,224,232,252,277,290,295,300,301]),("←EIF1B−AS1",283,1,215,351,[215,343,351]),("EIF1B→",354,0,352,355,[352,353,354]),("ENTPD3→",451,0,429,471,[429,432,445,456,461,466,470]),("←ENTPD3−AS1",464,1,433,496,[433,434,442,496]),("RPL14→",503,0,500,504,[500,501,503,504]),("ZNF620→",555,0,549,559,[549,553,557,558]),("ZNF621→",575,1,567,583,[567,574,577,579,581,582]),("ZNF619→",527,2,520,532,[521,525,529,531])]

# ---------- G
G_navy = [(774,1.45),(776,.9),(778,.3),(780,1.3),(782,.6),(784,.15),(786,.85),(788,1.2),(790,3.),(790,2.85),(791,2.5),(792,2.35),(794,1.45),(796,.9),(798,1.55),(800,.3),(802,1.65),(804,.1),(806,.6),(808,.15),(810,.35),(812,.05),(814,.4),(816,.2),(818,.6),(820,.1),(822,.4),(824,.05),(826,.5),(828,.15),(830,.55),(832,.1),(834,.7),(836,.3),(838,.1),(840,.45),(842,1.),(843,.2),(846,.6),(848,.1),(850,.8),(852,.3),(855,.05),(858,1.),(860,.5),(862,1.1),(864,.15),(866,1.75),(868,.7),(870,1.6),(872,.2),(874,1.05),(876,.5),(878,1.45),(880,.9),(882,.15),(884,1.),(886,.6),(888,1.),(890,.1),(892,1.),(894,1.1),(896,.4),(898,1.),(900,.15),(902,.7),(904,1.),(906,.1),(908,.75),(910,.95),(912,.3),(914,1.1),(916,.6),(918,1.4),(920,.1),(922,.65),(924,1.4),(926,.2),(928,.95),(930,.55),(932,1.1),(934,.05),(936,.55),(938,1.5),(940,.85),(942,.2),(944,.5),(946,1.5),(948,.9),(950,.15),(952,.6),(954,1.2),(956,.4),(958,.8),(960,.05),(962,.6),(964,1.05),(966,.15),(968,1.7),(970,1.2),(972,.35),(974,2.15),(975,1.5),(977,2.0),(979,.9),(980,.2),(982,1.75),(984,.55),(986,1.3),(988,.1),(990,1.6),(992,.85),(994,.3),(997,.6),(999,.1),(1003,1.4),(1005,1.65),(1007,.6),(1008,2.05),(1010,.1),(1012,2.3),(1014,.75),(1016,2.45),(1018,1.),(1020,2.45),(1022,.15),(1024,2.5),(1026,2.5),(1030,.95),(1034,.1),(1038,2.95),(1036,1.05),(1040,.5),(1044,1.),(1046,.2),(1048,1.05),(1052,.1),(1056,.5),(1060,.2),(1064,.05),(1068,.25),(1072,.1),(1076,.2),(1080,.1),(1085,.65),(1088,.15),(1092,.05),(1096,.3),(1100,.1),(1103,1.4),(1105,1.65),(1107,.2),(1110,.05),(1115,.3),(1120,.1),(1124,.9),(1127,.4),(1130,1.),(1132,.1),(1134,1.2),(1136,.6),(1138,.95),(1140,1.15),(1142,.2),(1144,.9),(1146,.5),(1148,1.05),(1150,.15),(1152,.75),(1154,.3),(1156,.05),(1162,.6),(1165,.2),(1170,.85),(1172,.4),(1174,1.15),(1176,.05),(1178,.75),(1180,1.2),(1182,.3),(1184,1.),(1186,1.5),(1188,1.65),(1190,.15),(1192,1.6),(1194,.9),(1196,1.4),(1198,.3),(1200,1.3),(1202,.7),(1204,1.2),(1206,.1),(1208,1.),(1210,.4),(1212,.05),(1216,.7),(1218,.15),(1220,.4),(1224,.1),(1228,.25),(1232,.05),(1237,2.53),(1240,.7),(1242,.2),(1246,.6),(1248,1.05),(1250,.15),(1253,.95),(1255,.4),(1258,1.1),(1260,.7),(1262,.15),(1264,1.2),(1266,.5),(1268,.1),(1270,.3),(1272,.05),(1006,1.6),(1005,1.3)]
G_fill = [(775,.5),(777,.15),(779,.8),(781,.4),(783,1.),(785,.4),(787,.1),(789,.5),(793,.8),(795,.3),(797,.15),(799,.7),(801,.1),(803,.5),(805,.3),(807,.2),(809,.5),(811,.15),(813,.3),(815,.1),(817,.4),(819,.3),(821,.15),(823,.3),(825,.2),(827,.3),(829,.1),(831,.3),(833,.1),(835,.5),(837,.15),(839,.2),(841,.8),(844,.5),(847,.25),(849,.45),(851,.15),(853,.55),(854,.7),(856,.2),(857,.4),(859,.7),(861,.2),(863,.5),(865,.8),(867,.3),(869,1.1),(871,.45),(873,.7),(875,.25),(877,.8),(879,.3),(881,.5),(883,.8),(885,.3),(887,.1),(889,.7),(891,.4),(893,.2),(895,.75),(897,.15),(899,.5),(901,.85),(903,.3),(905,.6),(907,.4),(909,.2),(911,.6),(913,.8),(915,.2),(917,1.),(919,.5),(921,.9),(923,.25),(925,.75),(927,.45),(929,.1),(931,.3),(933,.7),(935,.2),(937,1.1),(939,.3),(941,.5),(943,.85),(945,1.1),(947,.2),(949,.45),(951,.95),(953,.2),(955,.6),(957,.15),(959,.4),(961,.9),(963,.25),(965,.7),(967,.5),(969,.85),(971,.5),(973,1.),(976,.3),(978,.6),(981,.5),(983,.25),(985,1.),(987,.6),(989,.3),(991,.55),(993,.1),(995,.55),(996,.2),(998,.3),(1000,.45),(1002,.2),(1004,.65),(1006,.1),(1009,.5),(1011,.3),(1013,.1),(1015,.45),(1017,.15),(1019,.5),(1021,.3),(1023,.6),(1025,.1),(1027,.35),(1029,.15),(1031,.4),(1033,.25),(1035,.55),(1037,.2),(1039,.3),(1041,.1),(1043,.35),(1045,.15),(1047,.5),(1049,.15),(1051,.3),(1054,.2),(1058,.1),(1062,.15),(1066,.1),(1070,.25),(1074,.05),(1078,.15),(1082,.2),(1086,.1),(1090,.15),(1094,.1),(1098,.2),(1102,.25),(1104,.7),(1106,.5),(1108,.1),(1112,.2),(1117,.1),(1122,.15),(1126,.2),(1129,.6),(1131,.3),(1133,.7),(1135,.2),(1137,.4),(1139,.75),(1141,.1),(1143,.4),(1145,.7),(1147,.2),(1149,.6),(1151,.35),(1153,.1),(1155,.2),(1158,.15),(1160,.35),(1164,.1),(1167,.4),(1169,.15),(1171,.25),(1173,.1),(1175,.4),(1177,.2),(1179,.4),(1181,.15),(1183,.6),(1185,.25),(1187,.1),(1189,.8),(1191,.35),(1193,.15),(1195,.6),(1197,.15),(1199,.7),(1201,.3),(1203,.15),(1205,.5),(1207,.2),(1209,.45),(1211,.15),(1213,.35),(1215,.15),(1217,.35),(1219,.1),(1222,.25),(1226,.3),(1230,.15),(1234,.3),(1238,.1),(1241,.3),(1244,.15),(1247,.3),(1249,.55),(1251,.3),(1254,.2),(1256,.7),(1259,.3),(1261,.5),(1263,.8),(1265,.25),(1267,.3),(1269,.6),(1271,.15)]
G_grey = [(892,1.2),(1124,.5)]
G_blue = [(991,1.8),(1006,1.4),(1001,1.25),(1000,.9),(1003,.85)]
G_green = [(1004,1.9)]
G_orange = [(1015,4.),(1025,4.)]
G_red = [(1012,4.8),(1011,4.3),(1021,4.4),(1024,4.45),(1025,4.5)]
G_lead = (1024,5.15)
G_rec = [(773,.3),(795,.3),(796,41),(797,41),(799,5),(800,.3),(860,.3),(861,40),(862,40),(863,.3),(999,.3),(1000,21),(1001,.5),(1034,.3),(1035,21),(1036,21),(1037,24),(1038,.5),(1047,.5),(1048,54),(1050,54),(1051,.5),(1055,.5),(1058,6),(1060,.3),(1162,.3),(1163,21),(1164,.3),(1273,.2)]
G_genes = [("RAI14→",794,0,773,834,[800,804,810,812,815,820,826,832,833]),("TTC23L→",871,0,839,901,[840,842,846,850,865,871,881,900]),("←RAD1",910,1,906,917,[906,908,910,913,916]),("BRIX1→",922,2,916,927,[916,923,925,926]),("DNAJC21→",946,0,930,960,[930,934,937,940,945,950,952,954,956,958]),("←AGXT2",1023,0,998,1050,[999,1008,1013,1024,1032,1036,1041,1049]),("←PRLR",1139,1,1049,1231,[1050,1058,1060,1062,1064,1066,1069,1075,1085,1090,1118,1231])]

# ---------- H
H_navy = [(625,.6),(627,.3),(629,.1),(631,.55),(633,.2),(635,.45),(637,.1),(640,.3),(642,.05),(645,.15),(648,.1),(651,.05),(654,.15),(657,.1),(660,.15),(663,.2),(666,.1),(669,.2),(671,.7),(673,.15),(676,.3),(679,.1),(682,.3),(685,.1),(688,.35),(691,.15),(694,.3),(697,.1),(700,.35),(703,.15),(706,.4),(709,.2),(712,.4),(715,.15),(718,1.1),(720,.45),(722,.2),(725,.55),(727,.1),(730,.6),(732,.25),(735,.8),(737,.35),(739,1.85),(740,.9),(742,.15),(744,1.05),(746,.5),(748,.95),(750,.2),(752,1.1),(754,.65),(756,.2),(758,1.1),(760,.5),(762,1.25),(764,.15),(766,.7),(768,1.1),(770,.3),(772,.9),(774,.5),(776,.15),(778,.95),(780,.35),(782,.7),(784,.15),(786,.55),(788,.85),(790,1.35),(792,.3),(794,.6),(796,1.15),(798,.15),(800,1.05),(802,.5),(804,.9),(806,1.2),(808,.25),(810,.55),(812,.05),(814,.35),(816,.55),(818,.15),(820,.65),(822,1.95),(824,1.6),(826,.85),(828,1.95),(830,1.3),(832,.2),(834,.6),(836,1.9),(838,1.),(840,2.7),(842,.55),(843,1.9),(845,2.6),(846,.2),(847,1.35),(849,2.4),(851,1.8),(853,.9),(855,.4),(857,.15),(859,.1),(862,.05),(865,.1),(869,.55),(871,.1),(885,.35),(888,.5),(890,.2),(893,.55),(895,.35),(898,.15),(900,.5),(903,.35),(905,.65),(907,.2),(909,.6),(911,1.2),(912,2.55),(914,2.4),(915,1.1),(917,2.25),(919,.35),(921,1.95),(922,2.4),(924,1.9),(926,3.),(928,3.),(925,1.5),(927,2.2),(929,1.4),(931,1.),(933,1.3),(935,.1),(937,1.05),(939,1.3),(941,.95),(943,.3),(945,1.),(947,.85),(949,.15),(951,1.4),(953,1.),(955,.75),(957,1.25),(959,.5),(961,.95),(963,.1),(974,.9),(977,1.),(980,.9),(983,1.),(985,.8),(988,.1),(991,.25),(994,.7),(996,.05),(998,.35),(1001,.25),(1003,.1),(1006,.3),(1010,.7),(1012,.35),(1015,.6),(1017,.2),(1020,.7),(1022,.35),(1025,.6),(1027,.15),(1030,.65),(1032,.3),(1035,.6),(1037,.2),(1040,.6),(1042,.35),(1045,.65),(1047,.4),(1050,.7),(1052,.25),(1055,1.7),(1057,.4),(1060,1.7),(1062,.4),(1065,1.75),(1066,1.2),(1068,.4),(1070,1.8),(1071,1.5),(1073,1.2),(1075,.4),(1077,2.1),(1079,1.),(1081,2.15),(1083,2.25),(1085,1.4),(1087,2.2),(1088,2.1),(1090,1.15),(1092,.1),(1094,1.),(1096,.65),(1098,.2),(1100,1.),(1102,.75),(1104,.1),(1106,1.),(1108,.6),(1110,1.5),(1112,1.),(1114,.55),(1116,1.8),(1118,1.3),(1120,.85),(1122,1.65),(1123,.3)]
H_fill = [(626,.45),(628,.15),(630,.35),(632,.15),(634,.3),(636,.15),(638,.2),(641,.15),(643,.2),(646,.05),(649,.15),(652,.1),(655,.1),(658,.05),(661,.1),(664,.05),(667,.15),(670,.1),(674,.3),(677,.15),(680,.25),(683,.15),(686,.25),(689,.1),(692,.3),(695,.15),(698,.3),(701,.1),(704,.25),(707,.1),(710,.3),(713,.1),(716,.35),(719,.2),(721,.3),(723,.4),(726,.3),(728,.4),(731,.15),(733,.5),(736,.2),(738,.5),(741,.6),(743,.35),(745,.75),(747,.25),(749,.6),(751,.35),(753,.15),(755,.5),(757,.85),(759,.3),(761,.7),(763,.15),(765,.35),(767,.6),(769,.15),(771,.55),(773,.25),(775,.7),(777,.35),(779,.1),(781,.3),(783,.5),(785,.25),(787,.1),(789,.3),(791,.65),(793,.15),(795,.4),(797,.2),(799,.45),(801,.15),(803,.3),(805,.55),(807,.1),(809,.3),(811,.15),(813,.25),(815,.1),(817,.2),(819,.35),(821,.2),(823,.45),(825,.2),(827,.4),(829,.15),(831,.5),(833,.1),(835,.25),(837,.4),(839,.1),(841,.9),(844,.4),(848,.1),(850,.6),(852,.2),(854,.1),(856,.15),(858,.05),(861,.1),(863,.15),(866,.05),(892,.25),(896,.1),(899,.4),(902,.15),(904,.3),(906,.2),(908,.4),(910,.15),(913,.2),(916,.5),(918,.1),(920,.25),(923,.3),(926,.1),(930,.3),(932,.1),(934,.25),(936,.1),(986,.3),(989,.2),(992,.1),(995,.3),(997,.2),(999,.1),(1002,.3),(1004,.35),(1008,.4),(1011,.15),(1014,.3),(1016,.15),(1019,.35),(1021,.15),(1024,.35),(1026,.3),(1029,.35),(1031,.15),(1034,.35),(1036,.3),(1039,.4),(1041,.2),(1044,.4),(1046,.2),(1049,.45),(1051,.4),(1054,.35),(1056,.4),(1059,.35),(1061,.4),(1064,.35),(1067,.35),(1069,.2),(1072,.35),(1074,.2),(1076,.35),(1078,.3),(1080,.3),(1082,.1),(1084,.15),(1086,.1),(1089,.15),(1091,.05),(1093,.15),(1095,.1),(1097,.1),(1099,.15),(1101,.05),(1103,.3),(1105,.15),(1107,.3),(1109,.15),(1111,.3),(1113,.15),(1115,.3),(1117,.35),(1119,.2),(1121,.3),(1122,.15)]
H_grey = [(899,2.67),(953,.2),(976,1.1)]
H_blue = [(911,4.11),(911,2.97),(909,2.78),(888,2.53),(946,2.15)]
H_green = []
H_orange = [(878,3.72),(888,3.95),(892,3.98)]
H_red = []
H_lead = (874,5.13)
H_rec = [(624,.2),(703,.2),(704,10),(705,.2),(820,.3),(821,38),(822,38),(823,5),(830,2),(850,.5),(868,1),(872,4),(873,35),(874,35),(876,6),(890,1),(900,.5),(926,.4),(930,4),(950,4),(955,10),(962,12),(973,12),(975,.8),(985,.6),(990,2),(1000,.5),(1095,.4),(1098,.4),(1099,30),(1100,.5),(1124,.3)]
H_genes = []

# ---------- I
I_navy = [(903,2.2),(908,1.4),(912,.8),(915,.2),(920,1.5),(925,2.1),(928,.5),(932,1.2),(936,.1),(940,.7),(944,1.8),(948,1.),(952,.2),(956,1.4),(960,.6),(964,1.85),(968,.15),(972,1.1),(976,.5),(980,2.1),(984,1.5),(988,3.1),(988,.15),(992,.75),(996,1.3),(1000,1.9),(1004,.4),(1008,1.05),(1012,.1),(1016,.75),(1020,1.5),(1024,.4),(1028,2.05),(1032,.9),(1036,.15),(1040,.65),(1044,1.2),(1048,.3),(1052,.8),(1056,.1),(1060,.6),(1064,.95),(1068,.2),(1072,.75),(1076,1.15),(1080,.4),(1084,.75),(1088,.1),(1092,.6),(1095,1.95),(1096,.9),(1100,.3),(1104,.7),(1108,.15),(1112,.6),(1116,.9),(1120,.3),(1124,.75),(1128,2.05),(1130,2.55),(1132,1.6),(1136,.15),(1140,2.1),(1142,.85),(1144,1.3),(1148,2.2),(1150,.45),(1152,1.65),(1156,.9),(1160,2.2),(1164,1.55),(1168,.15),(1172,1.),(1176,.5),(1180,1.3),(1184,.7),(1188,.1),(1192,1.55),(1196,.9),(1200,1.4),(1204,.3),(1208,1.),(1212,1.5),(1216,.6),(1220,.1),(1224,1.3),(1228,.7),(1232,1.5),(1236,.2),(1240,1.05),(1244,1.65),(1248,.35),(1252,1.2),(1256,.8),(1260,1.6),(1264,.15),(1268,1.2),(1272,1.7),(1276,.6),(1280,2.),(1284,1.2),(1288,.3),(1292,1.5),(1294,2.97),(1296,.85),(1300,2.1),(1301,3.12),(1304,2.97),(1304,1.4),(1308,.6),(1312,2.0),(1316,.95),(1320,1.6),(1324,.15),(1328,1.9),(1332,.85),(1336,1.4),(1340,2.1),(1344,.5),(1348,1.8),(1352,1.2),(1356,.3),(1360,2.2),(1364,1.4),(1368,.8),(1372,2.4),(1376,.2),(1380,1.2),(1384,.7),(1388,.3),(1392,2.),(1396,1.1),(1398,3.12),(1400,.5),(1404,1.85),(1408,3.3),(1408,1.1),(1412,.2),(1416,1.),(1420,2.1),(1424,.6),(1428,1.5),(1432,2.45),(1436,.85),(1440,1.8),(1444,.2),(1448,1.1),(1452,2.25),(1456,.65),(1460,.9),(1464,.2),(1468,.55),(1472,.85),(1476,.1),(1480,.6),(1484,.9),(1488,.15),(1492,.55),(1496,1.5),(1498,2.36),(1500,.95),(1504,.3),(1508,1.5),(1512,.7),(1516,1.45),(1520,.1),(1524,.85),(1528,1.35),(1532,.3),(1533,1.79),(1536,.85),(1540,.15),(1544,.6),(1548,.2),(1552,.5),(1556,.1),(1560,.55),(1561,1.71),(1564,.2),(1568,.95),(1572,.1),(1576,.55),(1580,.2),(1584,.6),(1588,.1),(1592,.4),(1596,.75),(1600,.15),(1604,.5),(1608,.8),(1612,.2),(1616,.5),(1620,1.64),(1620,.1),(1624,.6),(1628,.25),(1632,.55),(1636,1.),(1636,.15)]
I_fill = [(901,.4),(905,1.),(910,.2),(914,1.3),(918,.6),(922,1.15),(926,.25),(930,1.75),(934,.4),(938,1.3),(942,.2),(946,1.4),(950,.6),(954,1.85),(958,.2),(962,1.1),(966,.45),(970,1.6),(974,.85),(978,1.35),(982,.35),(986,.95),(990,1.65),(994,.5),(998,.95),(1002,.2),(1006,1.45),(1010,.55),(1014,1.15),(1018,.3),(1022,.95),(1026,.15),(1030,.55),(1034,1.1),(1038,.4),(1042,.1),(1046,.75),(1050,.45),(1054,.2),(1058,.4),(1062,.2),(1066,.65),(1070,.35),(1074,.1),(1078,.6),(1082,.2),(1086,.5),(1090,.3),(1094,.15),(1098,.55),(1102,.15),(1106,.4),(1110,.8),(1114,.25),(1118,.5),(1122,.15),(1126,.5),(1130,1.2),(1134,.4),(1138,1.05),(1142,.25),(1146,1.),(1150,1.3),(1154,.2),(1158,1.25),(1162,.6),(1166,1.),(1170,.4),(1174,1.45),(1178,.85),(1182,.25),(1186,1.1),(1190,.6),(1194,1.2),(1198,.3),(1202,.85),(1206,1.55),(1210,.4),(1214,.95),(1218,.3),(1222,.7),(1226,.15),(1230,.4),(1234,1.),(1238,.65),(1242,.3),(1246,1.05),(1250,.55),(1254,1.55),(1258,.3),(1262,1.),(1266,.5),(1270,.2),(1274,1.05),(1278,.3),(1282,1.55),(1286,.85),(1290,.15),(1294,1.),(1298,.4),(1302,1.65),(1306,1.),(1310,.3),(1314,1.45),(1318,.5),(1322,1.05),(1326,1.75),(1330,.45),(1334,1.8),(1338,.7),(1342,1.25),(1346,.25),(1350,.9),(1354,1.5),(1358,.8),(1362,.5),(1366,1.),(1370,.25),(1374,1.75),(1378,.6),(1382,.25),(1386,.9),(1390,.55),(1394,.25),(1398,1.6),(1402,.85),(1406,.35),(1410,1.5),(1414,.65),(1418,1.6),(1422,1.05),(1426,.25),(1430,.9),(1434,1.7),(1438,.5),(1442,1.15),(1446,.55),(1450,.2),(1454,.35),(1458,.15),(1462,.5),(1466,.8),(1470,.2),(1474,.45),(1478,.8),(1482,.3),(1486,.55),(1490,.85),(1494,.2),(1498,.6),(1502,.15),(1506,.65),(1510,.95),(1514,.3),(1518,.7),(1522,.4),(1526,.15),(1530,.7),(1534,.5),(1538,.5),(1542,.3),(1546,.35),(1550,.15),(1554,.3),(1558,.25),(1566,.45),(1570,.35),(1574,.2),(1578,.5),(1582,.35),(1586,.3),(1590,.15),(1594,.1),(1598,.35),(1602,.3),(1606,.2),(1610,.45),(1614,.3),(1618,.25),(1622,.35),(1626,.45),(1630,.1),(1634,.3),(1637,.5)]
I_grey = [(1548,.8),(1614,1.96),(1389,3.52),(1294,2.02),(1395,2.13)]
I_blue = [(903,2.44),(962,2.44),(988,2.97),(988,2.23),(995,2.38),(1004,2.46),(983,2.21),(1015,3.22),(1022,3.26),(1038,3.54),(1041,3.75),(1059,3.68),(1066,3.64),(1073,3.62),(1081,3.62),(1091,3.6),(1100,3.7),(1105,3.58),(1047,2.97),(1047,2.59),(1066,2.74),(1081,2.74),(1127,3.),(1132,2.84),(1139,3.64),(1144,3.43),(1155,4.13),(1162,3.96),(1174,3.64),(1182,4.23),(1191,4.06),(1201,4.06),(1212,3.98),(1223,3.92),(1233,3.92),(1244,3.81),(1255,3.7),(1265,3.73),(1276,3.6),(1283,3.33),(1290,2.8),(1239,3.),(1326,3.24),(1341,3.33),(1348,3.28),(1356,3.26),(1404,3.64),(1408,3.26),(1410,3.),(1159,2.34),(1173,2.21),(1185,2.1),(1198,2.21),(1212,2.06),(1226,1.96),(1240,1.87),(1255,1.83),(1269,1.92),(1308,2.27),(1319,2.27),(1329,2.38),(1340,2.42),(1354,2.44),(1368,1.6),(1383,1.85),(1038,1.85),(1056,1.92),(1038,1.33),(1052,1.54),(1066,1.47),(1081,1.39),(1098,1.28),(1112,1.33),(1123,1.47),(1059,.55),(1112,.48),(1123,.42),(1240,.55),(1258,.55),(1287,.48),(1294,.48),(1418,1.33),(1422,1.75),(1429,2.17),(1436,2.48),(1443,2.59),(1446,2.27),(1450,1.96),(1455,1.75),(1417,1.)]
I_green = [(1383,5.01),(1215,4.84),(1246,4.48),(1299,4.4),(1318,4.17),(1169,4.32),(1033,3.09),(1047,3.87),(1047,3.6),(1114,3.81),(1120,3.94),(1128,3.96),(1138,4.),(1147,4.02),(1081,2.34),(1118,2.8),(1120,2.59),(1124,2.42),(1218,2.13),(1285,2.23),(1365,1.83),(1388,2.34),(1399,1.26)]
I_orange = [(1399,4.02),(1402,3.83),(1386,1.62),(1378,1.33),(1390,1.62)]
I_red = [(1371,4.88),(1377,4.88),(1395,4.82),(1368,4.53),(1369,4.15),(1374,3.85),(1381,3.85),(1392,4.08),(1395,3.96)]
I_lead = (1388,5.14)
I_rec = [(900,.5),(994,.5),(995,1.5),(1000,.3),(1180,.2),(1240,.3),(1577,.3),(1578,15),(1579,.3),(1638,.3)]
I_genes = [("ANKS1A→",960,0,900,1059,[935,950,960,986,1023,1035,1050,1054,1056,1058]),("←TCP11",1096,0,1087,1110,[1087,1089,1098,1108]),("SCUBE3→",1201,0,1182,1219,[1183,1195,1198,1205,1208,1211,1215,1218]),("ZNF76→",1246,1,1226,1263,[1228,1250,1255,1258,1260,1262]),("DEF6→",1278,0,1264,1289,[1265,1275,1279,1287,1288]),("PPARD→",1354,0,1309,1395,[1310,1325,1365,1385,1390,1394]),("RPL10A→",1438,0,1437,1438,[1437]),("FANCE→",1427,1,1420,1436,[1422,1425,1428,1431,1435]),("MIR7111→",1438,2,1437,1438,[1437]),("←TEAD3",1452,3,1440,1465,[1442,1445,1447,1455,1464]),("←TULP1",1471,4,1464,1479,[1465,1468,1471,1475,1477]),("←FKBP5",1606,0,1539,1638,[1540,1544,1548,1551,1554,1578,1600,1610]),("←MIR5690",1600,1,1631,1632,[1631])]

# ----- panel layout, in pixels
panels = [
 dict(l='A',chrom='chr2',xl=(155.4,656),left=65,right=409.3,top=49,bot=278,y0=267.3,y10=59,gt=286.7,gb=300.7,ticks=[200,300,400,500,600],tl=['227.2','227.3','227.4','227.5','227.6'],side='L',lx=(19,51.7),d=(A_navy+A_fill,A_grey,A_blue,A_green,A_orange,A_red),lead=A_lead,rs='rs5839171',rec=A_rec,genes=A_genes),
 dict(l='B',chrom='chr16',xl=(113.6,613.5),left=487,right=832.3,top=49,bot=222.7,y0=215.3,y10=56.3,gt=232.3,gb=301.7,ticks=[200,300,400,500,600],tl=['31.2','31.3','31.4','31.5','31.6'],side='R',lx=(445,51.7),d=(B_navy+B_fill,[],B_blue,B_green,B_orange,B_red),lead=B_lead,rs='rs4632147',rec=B_rec,genes=B_genes),
 dict(l='C',chrom='chr13',xl=(117,1117),left=910.7,right=1255.7,top=48,bot=249.3,y0=240.3,y10=57,gt=258.7,gb=299.3,ticks=[200,400,600,800,1000],tl=['60.2','60.4','60.6','60.8','61'],side='L',lx=(871,51),d=(C_navy+C_fill,C_grey,C_blue,C_green,C_orange,C_red),lead=C_lead,rs='rs2265634',rec=C_rec,genes=C_genes),
 dict(l='D',chrom='chr2',xl=(805,1305),left=65,right=410.3,top=346,bot=547.7,y0=538.3,y10=355.3,gt=556.7,gb=597.3,ticks=[900,1000,1100,1200,1300],tl=['231.9','232','232.1','232.2','232.3'],side='R',lx=(19,343),d=(D_navy+D_fill,D_grey,D_blue,D_green,D_orange,D_red),lead=D_lead,rs='rs6761645',rec=D_rec,genes=D_genes),
 dict(l='E',chrom='chr7',xl=(460,960),left=487.3,right=832.3,top=345.3,bot=532.7,y0=525,y10=354,gt=542,gb=596.7,ticks=[500,600,700,800,900],tl=['128.5','128.6','128.7','128.8','128.9'],side='L',lx=(445,343),d=(E_navy+E_fill,E_grey,E_blue,E_green,E_orange,E_red),lead=E_lead,rs='rs80086012',rec=E_rec,genes=E_genes),
 dict(l='F',chrom='chr3',xl=(172,673),left=910.7,right=1255.7,top=346,bot=547.3,y0=538,y10=355.3,gt=556.3,gb=597.3,ticks=[200,300,400,500,600],tl=['40.2','40.3','40.4','40.5','40.6'],side='R',lx=(870,343),d=(F_navy+F_fill,F_grey,F_blue,F_green,F_orange,F_red),lead=F_lead,rs='rs7633684',rec=F_rec,genes=F_genes),
 dict(l='G',chrom='chr5',xl=(773,1273),left=64.3,right=409.3,top=643,bot=845,y0=835.7,y10=652.3,gt=853.7,gb=894.7,ticks=[800,900,1000,1100,1200],tl=['34.8','34.9','35','35.1','35.2'],side='R',lx=(19,643),d=(G_navy+G_fill,G_grey,G_blue,G_green,G_orange,G_red),lead=G_lead,rs='rs148600009',rec=G_rec,genes=G_genes),
 dict(l='H',chrom='chr4',xl=(623.6,1123.6),left=487.3,right=832.3,top=642.3,bot=871.7,y0=861.3,y10=653,gt=880.3,gb=894.3,ticks=[700,800,900,1000,1100],tl=['61.7','61.8','61.9','62','62.1'],side='L',lx=(445,643),d=(H_navy+H_fill,H_grey,H_blue,H_green,H_orange,H_red),lead=H_lead,rs='rs17090343',rec=H_rec,genes=H_genes),
 dict(l='I',chrom='chr6',xl=(900,1638),left=910.3,right=1256.3,top=642.7,bot=817.3,y0=809.3,y10=651,gt=826.3,gb=895.7,ticks=[900,1000,1100,1200,1300,1400,1500,1600],tl=['34.9','35','35.1','35.2','35.3','35.4','35.5','35.6'],side='R',lx=(871,643),d=(I_navy+I_fill,I_grey,I_blue,I_green,I_orange,I_red),lead=I_lead,rs='rs2395623',rec=I_rec,genes=I_genes),
]
legend_ticks = ['0.8', '0.6', '0.4', '0.2']
r2_bins = [0, .2, .4, .6, .8]
r2_colors = [NAVY, BLUE, GREEN, ORANGE, RED]

fig = plt.figure(figsize=(W/100, H/100), dpi=100, facecolor='white')


def add_ax(l, t, r, b, **kw):
    return fig.add_axes([l/W, 1-b/H, (r-l)/W, (b-t)/H], **kw)


def style(ax):
    for s in ax.spines.values():
        s.set_color(FRAME)
        s.set_linewidth(1.0)


# outer page frame
page = add_ax(0, 0, W, H)
page.set_xlim(0, W); page.set_ylim(H, 0); page.axis('off'); page.set_zorder(-5)
page.add_patch(FancyBboxPatch((13, 12), W-22, H+40, boxstyle='round,pad=4,rounding_size=8', fc='none', ec='#cfcfcf', lw=1.0))

SIZE = 17
for p in panels:
    ppu = (p['y0']-p['y10'])/10
    upp = (p['bot']-p['y0'])/ppu
    low = (p['y0']-p['top'])/ppu
    ax = add_ax(p['left'], p['top'], p['right'], p['bot'])
    ax.set_xlim(*p['xl']); ax.set_ylim(-upp, low)
    rx = ax.twinx(); rx.set_ylim(-upp*10, low*10)
    ax.set_zorder(rx.get_zorder()+1); ax.patch.set_visible(False)
    rx.plot([q[0] for q in p['rec']], [q[1] for q in p['rec']], color=REC, lw=.9, solid_joinstyle='miter')
    rx.set_yticks([0, 20, 40, 60, 80, 100])
    rx.tick_params(axis='y', colors=RTXT, labelsize=5.4, length=3.2, width=.6, pad=3)
    rx.set_ylabel('Recombination rate (cM/Mb)', rotation=270, color=RTXT, fontsize=5.0)
    rx.yaxis.set_label_coords(1+25/(p['right']-p['left']), .5)
    for (pts, col, lw, ec) in zip(p['d'], [NAVY, GREY, BLUE, GREEN, ORANGE, RED], [.35, .4, .4, .4, .4, .4], ['#303030']+['#4a4a4a']*5):
        if pts:
            ax.scatter([q[0] for q in pts], [q[1] for q in pts], s=SIZE, c=col, edgecolors=ec, linewidths=lw, zorder=3)
    ax.scatter([p['lead'][0]], [p['lead'][1]], s=SIZE*.8, marker='D', c=PURPLE, edgecolors='#4a4a4a', linewidths=.4, zorder=5)
    ax.annotate(p['rs'], p['lead'], xytext=(0, 5.4), textcoords='offset points', ha='center', va='center', fontsize=5.3, color='#222222', zorder=6)
    ax.set_xticks([])
    ax.set_yticks([0, 2, 4, 6, 8, 10])
    ax.tick_params(axis='y', colors=TXT, labelsize=5.4, length=3.2, width=.6, pad=3)
    ax.set_ylabel(r'$-\log_{10}(p\mathrm{-value})$', color=TXT, fontsize=5.3)
    ax.yaxis.set_label_coords(-26/(p['right']-p['left']), .5)
    style(rx)
    for sp in ax.spines.values():
        sp.set_visible(False)

    # legend
    lw_, lh_ = 29.4, 68.4
    ll = p['left']+3.5 if p['side'] == 'L' else p['right']-3.3-lw_
    lt = p['top']+3.4
    lg = add_ax(ll, lt, ll+lw_, lt+lh_)
    lg.set_zorder(ax.get_zorder()+1)
    lg.set_xlim(0, lw_); lg.set_ylim(lh_, 0)
    lg.set_xticks([]); lg.set_yticks([])
    style(lg)
    for b_, c_ in zip(r2_bins, r2_colors):
        y1 = 65 - b_*53
        lg.bar(4.7, 53*.2, width=7, bottom=y1-53*.2, align='edge', color=c_, lw=0)
    for v_, t_ in zip([.8, .6, .4, .2], legend_ticks):
        yy = 65 - v_*53
        lg.plot([11.7, 13.5], [yy, yy], color=TXT, lw=.5)
        lg.text(16.5, yy, t_, fontsize=5.0, color=TXT, va='center', ha='left')
    lg.text(13, 5.6, r'$r^2$', fontsize=5.4, color='#333333', ha='center', va='center')

    # gene track
    g = add_ax(p['left'], p['gt'], p['right'], p['gb'])
    g.set_xlim(*p['xl']); g.set_ylim(p['gb']-p['gt'], 0)
    g.set_yticks([])
    g.set_xticks(p['ticks']); g.set_xticklabels(p['tl'])
    g.tick_params(axis='x', colors=TXT, labelsize=5.4, length=2.5, width=.5, pad=5)
    style(g)
    for name, lab_x, row, s_, e_, ex in p['genes']:
        yl, yg = 5+13.75*row, 9.4+13.75*row
        g.text(lab_x, yl, name, fontsize=5.0, style='italic', ha='center', va='center', color='#222222')
        g.plot([s_, e_], [yg, yg], color=REC, lw=.6, solid_capstyle='butt')
        for x_ in ex:
            g.plot([x_, x_], [yg-1.4, yg+1.4], color='#1c2a80', lw=.9, solid_capstyle='butt')
    fig.text((p['left']+p['right'])/2/W, 1-(p['gb']+22.5)/H, 'Position on %s (Mb)' % p['chrom'], ha='center', va='center', fontsize=5.1, color=TXT)
    fig.text(p['lx'][0]/W, 1-p['lx'][1]/H, p['l'], fontsize=18.5, fontweight='bold', color='black', ha='left', va='center')

# caption
CAP = 'Lato'
CAPCOL = '#666666'
fig.text(41/W, 1-959/H, 'FIGURE 3', fontsize=13.5, fontweight='bold', family=CAP, color=CAPCOL, ha='left', va='center')
cap_parts = [("(A–I)", 'normal', 'bold'), (". LocusZoom plot near the ", 'normal', 'normal'), ("IRS1/miR-5702", 'italic', 'normal'),
             (" locus, which reached genome-wide significance, and 8 suggestive loci.", 'normal', 'normal')]
r = fig.canvas.get_renderer()
xc = 41
for txt, st, wt in cap_parts:
    t = fig.text(xc/W, 1-984/H, txt.replace(' ', '\u00a0'), fontsize=14.2, style=st, fontweight=wt, family=CAP, color=CAPCOL, ha='left', va='center')
    xc += t.get_window_extent(r).width

fig.savefig('out.png', dpi=100)
